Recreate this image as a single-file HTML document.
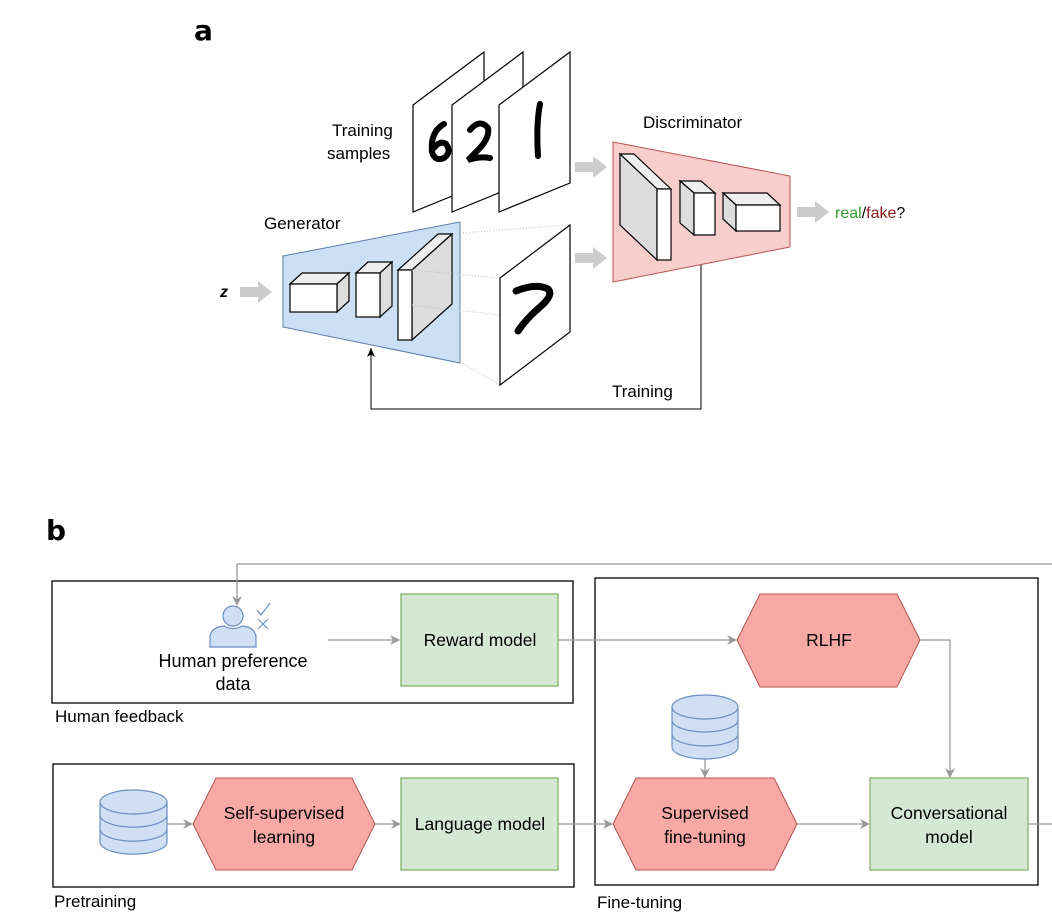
<!DOCTYPE html>
<html><head><style>
html,body{margin:0;padding:0;background:#fff;}
svg{display:block;font-family:"Liberation Sans",Arial,sans-serif;}
</style></head><body>
<svg width="1052" height="916" viewBox="0 0 1052 916" xmlns="http://www.w3.org/2000/svg">
<defs>
<marker id="ga" markerWidth="10" markerHeight="10" refX="9" refY="5" orient="auto" markerUnits="userSpaceOnUse"><path d="M0,0 L10,5 L0,10 L3,5 Z" fill="#999"/></marker>
<marker id="ka" markerWidth="10" markerHeight="10" refX="9" refY="5" orient="auto" markerUnits="userSpaceOnUse"><path d="M0,1 L9,5 L0,9 L2.5,5 Z" fill="#000"/></marker>
</defs>
<text x="194" y="40" font-size="28" font-weight="bold" font-family="DejaVu Sans,sans-serif">a</text>
<text x="46" y="540" font-size="28" font-weight="bold" font-family="DejaVu Sans,sans-serif">b</text>

<!-- Training samples -->
<g stroke="#000" stroke-width="1.2" fill="#fff">
<polygon points="413,105 484,52 484,183 413,212"/>
<path d="M444,124 q-14,8 -12,28 q3,10 12,6 q8,-6 2,-14 q-6,-4 -12,4" fill="none" stroke="#000" stroke-width="6" stroke-linecap="round"/>
<polygon points="452,105 523,52 523,183 452,212"/>
<path d="M470,130 q10,-12 18,-2 q2,10 -10,22 q-6,6 -10,10 q12,-4 22,-2" fill="none" stroke="#000" stroke-width="6" stroke-linecap="round"/>
<polygon points="499,105 570,52 570,183 499,212"/>
<path d="M540,104 q-4,20 -2,52" fill="none" stroke="#000" stroke-width="6" stroke-linecap="round"/>
</g>
<text x="332" y="136" font-size="17">Training</text>
<text x="327" y="159" font-size="17">samples</text>

<!-- Generator -->
<text x="264" y="229" font-size="17">Generator</text>
<polygon points="283,256 460,222 460,363 283,327" fill="#cce0f5" stroke="#5a7fa8" stroke-width="1"/>
<g stroke="#000" stroke-width="1.2">
<polygon points="290,284 302,273 349,273 337,284" fill="#eee"/><polygon points="337,284 349,273 349,301 337,312" fill="#ddd"/><rect x="290" y="284" width="47" height="28" fill="#fff"/>
<polygon points="356,273 368,262 392,262 380,273" fill="#eee"/><polygon points="380,273 392,262 392,306 380,317" fill="#ddd"/><rect x="356" y="273" width="24" height="44" fill="#fff"/>
<polygon points="398,270 438,234 452,234 412,270" fill="#eee"/><polygon points="412,270 452,234 452,304 412,340" fill="#ddd"/><rect x="398" y="270" width="14" height="70" fill="#fff"/>
</g>
<g stroke="#bbb" stroke-width="1" stroke-dasharray="1,2">
<line x1="460" y1="233" x2="570" y2="225"/>
<line x1="412" y1="270" x2="500" y2="278"/>
<line x1="412" y1="305" x2="500" y2="315"/>
<line x1="460" y1="362" x2="500" y2="385"/>
</g>
<polygon points="500,278 570,225 570,332 500,385" fill="#fff" stroke="#000" stroke-width="1.2"/>
<path d="M516,291 q20,-8 32,-2 q6,6 -8,18 q-14,12 -22,24" fill="none" stroke="#000" stroke-width="7" stroke-linecap="round"/>
<text x="220" y="297" font-size="16" font-weight="bold" font-style="italic">z</text>
<polygon points="240,287 258,287 258,281 272,292 258,303 258,297 240,297" fill="#ccc"/>

<!-- Discriminator -->
<text x="643" y="128" font-size="17">Discriminator</text>
<polygon points="575,162 593,162 593,156 607,167 593,178 593,172 575,172" fill="#ccc"/>
<polygon points="575,253 593,253 593,247 607,258 593,269 593,263 575,263" fill="#ccc"/>
<polygon points="613,142 790,176 790,247 613,282" fill="#f8cecc" stroke="#b85450" stroke-width="1"/>
<g stroke="#000" stroke-width="1.2">
<polygon points="620,154 634,154 671,189 657,189" fill="#eee"/><polygon points="620,154 657,189 657,260 620,225" fill="#ddd"/><rect x="657" y="189" width="14" height="71" fill="#fff"/>
<polygon points="680,181 701,181 715,193 694,193" fill="#eee"/><polygon points="680,181 694,193 694,235 680,223" fill="#ddd"/><rect x="694" y="193" width="21" height="42" fill="#fff"/>
<polygon points="723,193 767,193 780,205 736,205" fill="#eee"/><polygon points="723,193 736,205 736,231 723,219" fill="#ddd"/><rect x="736" y="205" width="44" height="26" fill="#fff"/>
</g>
<polygon points="797,207 815,207 815,201 829,212 815,223 815,217 797,217" fill="#ccc"/>
<text x="835" y="218" font-size="16"><tspan fill="#2e9b2e">real</tspan>/<tspan fill="#8b1a1a">fake</tspan>?</text>
<polyline points="701,265 701,409 371,409 371,348" fill="none" stroke="#000" stroke-width="1" marker-end="url(#ka)"/>
<text x="612" y="397" font-size="17">Training</text>

<!-- Part b -->
<g fill="none" stroke="#000" stroke-width="1.3">
<rect x="52" y="581" width="521" height="122"/>
<rect x="53" y="764" width="521" height="123"/>
<rect x="595" y="578" width="443" height="307"/>
</g>
<text x="55" y="722" font-size="17">Human feedback</text>
<text x="54" y="907" font-size="17">Pretraining</text>
<text x="597" y="908" font-size="17">Fine-tuning</text>

<g stroke="#999" stroke-width="1.3" fill="none">
<polyline points="1052,564 237,564 237,605" marker-end="url(#ga)"/>
<line x1="328" y1="640" x2="399" y2="640" marker-end="url(#ga)"/>
<line x1="558" y1="640" x2="736" y2="640" marker-end="url(#ga)"/>
<polyline points="920,640 950,640 950,777" marker-end="url(#ga)"/>
<line x1="167" y1="824" x2="192" y2="824" marker-end="url(#ga)"/>
<line x1="375" y1="824" x2="400" y2="824" marker-end="url(#ga)"/>
<line x1="558" y1="824" x2="612" y2="824" marker-end="url(#ga)"/>
<line x1="797" y1="824" x2="869" y2="824" marker-end="url(#ga)"/>
<line x1="1028" y1="824" x2="1052" y2="824"/>
<line x1="705" y1="758" x2="705" y2="777" marker-end="url(#ga)"/>
</g>

<!-- person icon -->
<g fill="#cfe0f5" stroke="#6c8ebf" stroke-width="1.2">
<circle cx="233" cy="616" r="10"/>
<path d="M210,647 L210,636 Q212,627 224,626 Q233,631 242,626 Q254,627 256,636 L256,647 Z"/>
<path d="M257,610 l4,5 l9,-12" fill="none"/>
<path d="M258,619 l10,10 M268,619 l-10,10" fill="none"/>
</g>
<text x="233" y="667" font-size="18" text-anchor="middle">Human preference</text>
<text x="233" y="690" font-size="18" text-anchor="middle">data</text>

<g stroke="#82b366" stroke-width="1.3" fill="#d5e8d4">
<rect x="401" y="594" width="157" height="92"/>
<rect x="401" y="778" width="157" height="92"/>
<rect x="870" y="778" width="158" height="92"/>
</g>
<g stroke="#b85450" stroke-width="1" fill="#f8a9a5">
<polygon points="737,640 760,594 897,594 920,640 897,687 760,687"/>
<polygon points="193,824 216,778 352,778 375,824 352,870 216,870"/>
<polygon points="613,824 636,778 774,778 797,824 774,870 636,870"/>
</g>
<g font-size="17.5" text-anchor="middle">
<text x="480" y="646">Reward model</text>
<text x="829" y="646">RLHF</text>
<text x="284" y="819">Self-supervised</text><text x="284" y="843">learning</text>
<text x="480" y="830">Language model</text>
<text x="705" y="819">Supervised</text><text x="705" y="843">fine-tuning</text>
<text x="949" y="819">Conversational</text><text x="949" y="843">model</text>
</g>

<!-- databases -->
<g fill="#cfe0f5" stroke="#6c8ebf" stroke-width="1.2">
<path d="M100,802 v40 a33,12 0 0 0 67,0 v-40"/>
<path d="M100,829 a33,12 0 0 0 67,0" fill="none"/>
<path d="M100,815 a33,12 0 0 0 67,0" fill="none"/>
<ellipse cx="133.5" cy="802" rx="33.5" ry="12"/>
<path d="M672,707 v40 a33,12 0 0 0 66,0 v-40"/>
<path d="M672,734 a33,12 0 0 0 66,0" fill="none"/>
<path d="M672,720 a33,12 0 0 0 66,0" fill="none"/>
<ellipse cx="705" cy="707" rx="33" ry="12"/>
</g>
</svg>
</body></html>
